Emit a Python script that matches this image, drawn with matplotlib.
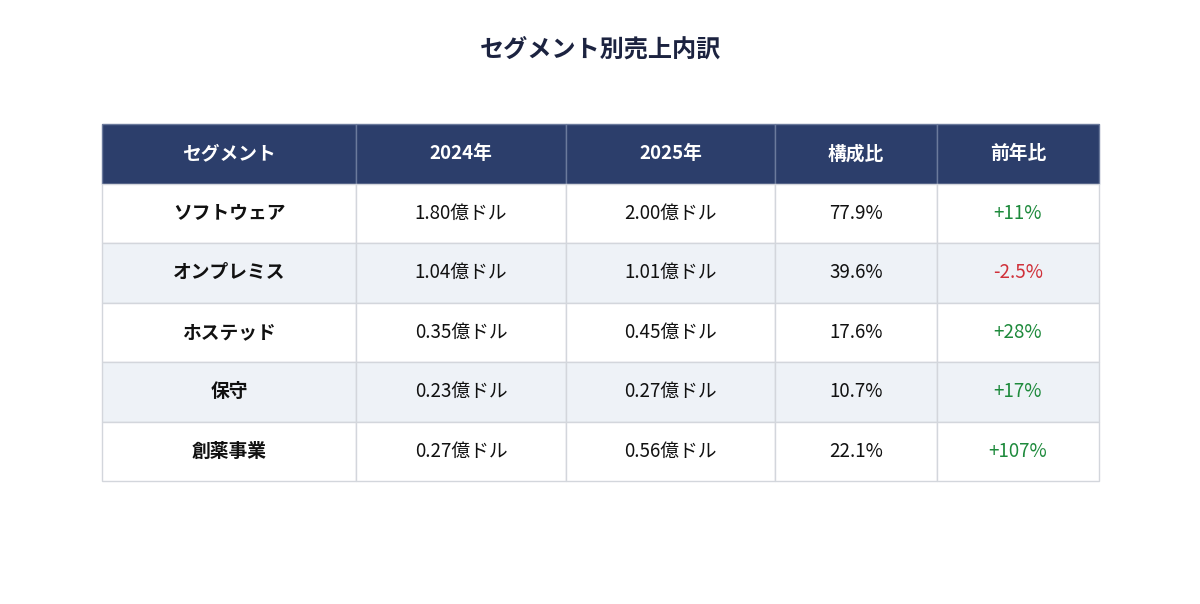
import matplotlib
matplotlib.use("Agg")
import matplotlib.pyplot as plt

plt.rcParams['font.family'] = ['Noto Sans CJK JP', 'DejaVu Sans']

title = "セグメント別売上内訳"
columns = ["セグメント", "2024年", "2025年", "構成比", "前年比"]
segments = ["ソフトウェア", "オンプレミス", "ホステッド", "保守", "創薬事業"]
rev_2024 = ["1.80億ドル", "1.04億ドル", "0.35億ドル", "0.23億ドル", "0.27億ドル"]
rev_2025 = ["2.00億ドル", "1.01億ドル", "0.45億ドル", "0.27億ドル", "0.56億ドル"]
share = ["77.9%", "39.6%", "17.6%", "10.7%", "22.1%"]
yoy = ["+11%", "-2.5%", "+28%", "+17%", "+107%"]

W, H = 1200, 604
fig = plt.figure(figsize=(W / 100, H / 100), dpi=100)
ax = fig.add_axes([0, 0, 1, 1])
ax.axis('off')

fig.text(0.5, 1 - 50 / H, title, ha='center', va='center', fontsize=17.4,
         fontweight='bold', color='#1c2340')

col_px = [254, 210, 209, 162, 162]
total = sum(col_px)
cell_text = [list(r) for r in zip(segments, rev_2024, rev_2025, share, yoy)]

tbl = ax.table(cellText=cell_text, colLabels=columns,
               colWidths=[c / total for c in col_px],
               cellLoc='center',
               bbox=[102 / W, 1 - 481 / H, total / W, (481 - 124) / H])
tbl.auto_set_font_size(False)

header_color = '#2c3e6b'
stripe = '#eef2f7'
edge = '#d3d6dc'
for (r, c), cell in tbl.get_celld().items():
    cell.set_edgecolor(edge)
    cell.set_linewidth(1.0)
    txt = cell.get_text()
    txt.set_fontsize(13.5)
    if r == 0:
        cell.set_facecolor(header_color)
        cell.set_edgecolor('#6b7a9c')
        txt.set_color('white')
        txt.set_fontweight('bold')
    else:
        cell.set_facecolor(stripe if r % 2 == 0 else 'white')
        txt.set_color('#111111')
        if c == 0:
            txt.set_fontweight('bold')
        if c == 4:
            v = yoy[r - 1]
            txt.set_color('#d0313a' if v.startswith('-') else '#1e8a3c')

fig.savefig('out.png', dpi=100, facecolor='white')
